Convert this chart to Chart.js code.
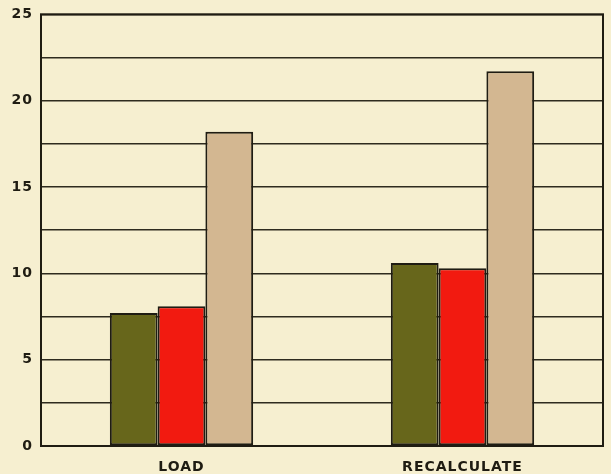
<!DOCTYPE html>
<html>
<head>
<meta charset="utf-8">
<script src="https://cdn.jsdelivr.net/npm/chart.js@4/dist/chart.umd.min.js"></script>
<style>
  html, body { margin: 0; padding: 0; background: #f6efd0; }
  #wrap { width: 611px; height: 474px; }
</style>
</head>
<body>
<div id="wrap"><canvas id="grafico" width="611" height="474"></canvas></div>
<script>
// --- datos ---
const categorias = ['LOAD', 'RECALCULATE'];
const serieA = [7.7, 10.6];
const serieB = [8.1, 10.3];
const serieC = [18.2, 21.7];
const marcasY = [0, 5, 10, 15, 20, 25];

const TINTA = '#1f1c12';

// fondo crema, espaciado de letras y marco completo del area de trazado
const marco = {
    id: 'marco',
    beforeDraw(chart) {
        const c = chart.ctx;
        c.save();
        c.fillStyle = '#f6efd0';
        c.fillRect(0, 0, chart.width, chart.height);
        c.restore();
        c.letterSpacing = '1px';
    },
    afterDraw(chart) {
        const a = chart.chartArea;
        const c = chart.ctx;
        c.save();
        c.strokeStyle = TINTA;
        c.lineWidth = 2;
        c.strokeRect(a.left, a.top, a.right - a.left, a.bottom - a.top);
        c.restore();
        c.letterSpacing = '0px';
    }
};

const estiloBarra = (color) => ({
    backgroundColor: color,
    borderColor: TINTA,
    borderWidth: 2,
    borderSkipped: false
});

new Chart(document.getElementById('grafico'), {
    type: 'bar',
    data: {
        labels: categorias,
        datasets: [
            { label: 'A', data: serieA, ...estiloBarra('#67661b') },
            { label: 'B', data: serieB, ...estiloBarra('#f21a10') },
            { label: 'C', data: serieC, ...estiloBarra('#d3b791') }
        ]
    },
    options: {
        responsive: false,
        animation: false,
        layout: { padding: { top: 13, right: 8, left: 0, bottom: 0 } },
        plugins: { legend: { display: false }, tooltip: { enabled: false } },
        datasets: { bar: { categoryPercentage: 0.51, barPercentage: 1.0 } },
        scales: {
            x: {
                grid: { display: false },
                border: { display: false },
                ticks: {
                    color: TINTA,
                    padding: 5,
                    font: { family: 'DejaVu Sans', weight: 'bold', size: 14 }
                },
                afterFit: (s) => { s.height = 28; }
            },
            y: {
                min: 0,
                max: 25,
                ticks: {
                    stepSize: 2.5,
                    padding: 8,
                    color: TINTA,
                    font: { family: 'DejaVu Sans', weight: 'bold', size: 14, lineHeight: 0.9 },
                    callback: (v) => marcasY.includes(v) ? String(v) : ''
                },
                grid: { color: '#2e2b1e', lineWidth: 1.5, tickLength: 0 },
                border: { display: false },
                afterFit: (s) => { s.width = 41; }
            }
        }
    },
    plugins: [marco]
});
</script>
</body>
</html>
